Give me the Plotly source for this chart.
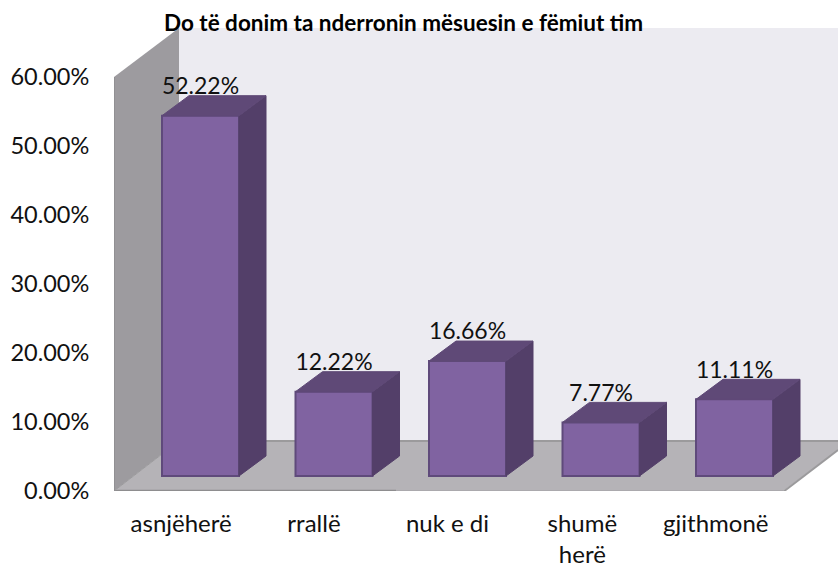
import plotly.graph_objects as go

title = "Do të donim ta nderronin mësuesin e fëmiut tim"
categories = ["asnjëherë", "rrallë", "nuk e di", "shumë<br>herë", "gjithmonë"]
values = [52.22, 12.22, 16.66, 7.77, 11.11]
value_labels = ["52.22%", "12.22%", "16.66%", "7.77%", "11.11%"]
y_ticks = [0, 10, 20, 30, 40, 50, 60]
category_label_x = [-0.145, 0.85, 1.85, 2.86, 3.86]

W, H = 838, 567
AX_L, AX_B = 114, 491
PX_PER_UNIT_Y = 6.9
PX_PER_CAT = 133.5
CENTER0 = 200.5
BAR_W = 77 / PX_PER_CAT
DX = 27 / PX_PER_CAT       # bar depth, x
DY = 20 / PX_PER_UNIT_Y    # bar depth, y
BASE = 15 / PX_PER_UNIT_Y  # bars stand forward on the floor
LABEL_GAP = 27.5 / PX_PER_UNIT_Y

FRONT, SIDE, TOP, EDGE = "#8063a1", "#533f69", "#5f4977", "#5f4a7b"
WALL, SIDEWALL, FLOOR = "#ecebf1", "#9d9b9f", "#b5b3b7"


def X(px):
    return (px - CENTER0) / PX_PER_CAT


def Y(py):
    return (AX_B - py) / PX_PER_UNIT_Y


def poly(points, fill, line=None, width=0):
    path = "M" + " L".join(f"{X(a)},{Y(b)}" for a, b in points) + " Z"
    return dict(type="path", path=path, xref="x", yref="y", layer="below",
                fillcolor=fill, line=dict(color=line or fill, width=width))


def seg(a, b, color, width=2):
    return dict(type="line", x0=X(a[0]), y0=Y(a[1]), x1=X(b[0]), y1=Y(b[1]),
                xref="x", yref="y", layer="below", line=dict(color=color, width=width))


shapes = [
    poly([(179, 28), (838, 28), (838, 441), (179, 441)], WALL),
    poly([(114, 77), (179, 28), (179, 441), (114, 491)], SIDEWALL),
    poly([(114, 491), (179, 441), (838, 441), (838, 450), (783, 491)], FLOOR),
    seg((179, 441), (838, 441), "#9b9a9c", 2),
    seg((114, 491), (396, 491), "#8e8d8f", 2.5),
    seg((396, 492), (783, 492), "#8e8d8f", 2.5),
    seg((783, 492), (838, 450), "#9b9a9c", 2),
    seg((114, 491), (179, 441), "#9b9a9c", 1),
    seg((114, 77), (114, 491), "#8e8d8f", 1.5),
]

fig = go.Figure()
xs = list(range(len(values)))

fig.add_trace(go.Bar(x=xs, y=values, base=BASE, width=BAR_W,
                     marker=dict(color=FRONT, line=dict(color=EDGE, width=2)),
                     hoverinfo="skip", showlegend=False))

for x, v in zip(xs, values):
    r = x + BAR_W / 2
    l = x - BAR_W / 2
    t = BASE + v
    fig.add_trace(go.Scatter(x=[r, r + DX, r + DX, r, r], y=[BASE, BASE + DY, t + DY, t, BASE],
                             mode="lines", fill="toself", fillcolor=SIDE,
                             line=dict(color=SIDE, width=1), hoverinfo="skip", showlegend=False))
    fig.add_trace(go.Scatter(x=[l, l + DX, r + DX, r, l], y=[t, t + DY, t + DY, t, t],
                             mode="lines", fill="toself", fillcolor=TOP,
                             line=dict(color=TOP, width=1), hoverinfo="skip", showlegend=False))

fig.add_trace(go.Scatter(x=xs, y=[BASE + v + LABEL_GAP for v in values], mode="text",
                         text=value_labels, textposition="middle center",
                         textfont=dict(family="Lato", size=23, color="#111111"),
                         cliponaxis=False, hoverinfo="skip", showlegend=False))

fig.update_layout(
    width=W, height=H, autosize=False,
    margin=dict(l=AX_L, r=0, t=0, b=H - AX_B, pad=0, autoexpand=False),
    paper_bgcolor="white", plot_bgcolor="white",
    shapes=shapes, barmode="overlay",
    font=dict(family="Lato", color="#111111"),
    annotations=[dict(text=f"<b>{title}</b>", xref="paper", yref="paper", x=(403 - AX_L) / (W - AX_L),
                      y=(AX_B - 22) / AX_B, xanchor="center", yanchor="middle", showarrow=False,
                      font=dict(family="Lato", size=22.5, color="#000000"))],
    xaxis=dict(range=[X(AX_L), X(W)], tickmode="array", tickvals=category_label_x, ticktext=categories,
               automargin=False, showgrid=False, zeroline=False, showline=False, ticks="outside", ticklen=11,
               tickcolor="rgba(0,0,0,0)", tickfont=dict(family="Lato", size=24, color="#111111")),
    yaxis=dict(range=[0, AX_B / PX_PER_UNIT_Y], tickmode="array", tickvals=y_ticks,
               ticktext=[f"{t:.2f}%" for t in y_ticks],
               automargin=False, showgrid=False, zeroline=False, showline=False, ticks="outside", ticklen=19,
               tickcolor="rgba(0,0,0,0)", tickfont=dict(family="Lato", size=23.5, color="#111111")),
)

fig.write_html("out.html", config={"displayModeBar": False},
               post_script="document.body.style.margin='0';")
